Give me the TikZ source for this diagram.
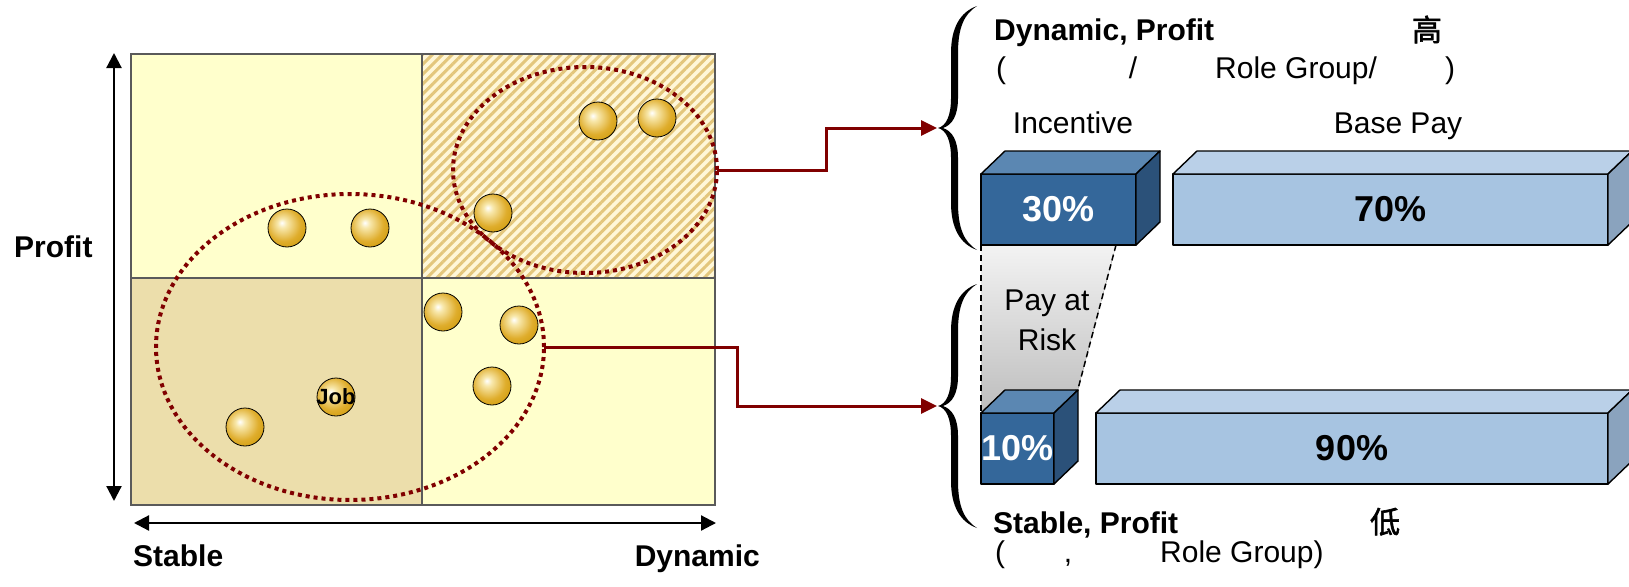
\documentclass[tikz,border=0pt]{standalone}
\usepackage{fontspec}
\setmainfont{Liberation Sans}
\newfontfamily\cjk{Noto Sans CJK SC}[FakeBold=2]
\usetikzlibrary{arrows.meta,shapes.geometric,patterns.meta}

% palette
\definecolor{paleyellow}{HTML}{FFFFCC}
\definecolor{tanfill}{HTML}{ECDEAB}
\definecolor{hatchbase}{HTML}{FFF7D8}
\definecolor{hatchline}{HTML}{E3C67C}
\definecolor{gridgray}{HTML}{5A5A5A}
\definecolor{linkred}{HTML}{800000}
\definecolor{gold1}{HTML}{F8E8AC}
\definecolor{gold2}{HTML}{DFAD2C}
\definecolor{gold3}{HTML}{C99500}
\definecolor{gold4}{HTML}{9A7200}
\definecolor{frontd}{HTML}{34679A}
\definecolor{topd}{HTML}{5B87B2}
\definecolor{sided}{HTML}{2B5179}
\definecolor{frontl}{HTML}{A7C4E1}
\definecolor{topl}{HTML}{BAD0E8}
\definecolor{sidel}{HTML}{8AA3BE}
\definecolor{riskhi}{HTML}{F3F3F3}
\definecolor{risklo}{HTML}{BDBDBD}

\pgfdeclareradialshading{goldball}{\pgfpoint{-7bp}{7bp}}{%
  color(0bp)=(white); color(6bp)=(gold1); color(22bp)=(gold2);
  color(38bp)=(gold3); color(60bp)=(gold4)}

\tikzset{
  lab/.style={font=\fontsize{30}{36}\selectfont, inner sep=0, anchor=base west},
  labb/.style={lab, font=\bfseries\fontsize{30}{36}\selectfont},
  cjklab/.style={font=\cjk\fontsize{30}{36}\selectfont, inner sep=0, anchor=base},
  grid/.style={draw=gridgray, line width=1.5pt},
  axis/.style={line width=2.2pt, {Triangle[length=15pt,width=15pt]}-{Triangle[length=15pt,width=15pt]}},
  grp/.style={ellipse, draw=linkred, line width=4pt, dash pattern=on 4pt off 4pt,
              inner sep=0, outer sep=0},
  gball/.style={circle, draw=black, line width=0.8pt, shade, shading=goldball,
                minimum size=38pt, inner sep=0},
  link/.style={draw=linkred, line width=3pt, -{Triangle[length=16pt,width=15pt]}},
  edge/.style={draw=black, line width=1.4pt, line join=round},
  barfront/.style={edge, rectangle, inner sep=0, outer sep=0, minimum height=71pt,
                   font=\bfseries\fontsize{36}{40}\selectfont},
  riskdash/.style={line width=1.5pt, dash pattern=on 6pt off 4pt},
  bracefill/.style={fill=black},
}

\begin{document}
\begin{tikzpicture}[x=1pt, y=-1pt]
\useasboundingbox (0,0) rectangle (1629,586);
\clip (0,0) rectangle (1629,586);

% ---- quadrant chart ----
\fill[paleyellow] (131,54) rectangle (422,278);
\fill[hatchbase] (422,54) rectangle (715,278);
\fill[pattern={Lines[angle=45,distance=7pt,line width=3pt]}, pattern color=hatchline]
  (422,54) rectangle (715,278);
\fill[tanfill] (131,278) rectangle (422,505);
\fill[paleyellow] (422,278) rectangle (715,505);
\draw[grid] (131,54) rectangle (715,505);
\draw[grid] (422,54) -- (422,505);
\draw[grid] (131,278) -- (715,278);

% axes
\draw[axis] (114,53) -- (114,501);
\draw[axis] (134,523) -- (716,523);
\node[labb] (yl) at (14,257) {Profit};
\node[labb] (xl1) at (133,566) {Stable};
\node[labb, anchor=base east] (xl2) at (760,566) {Dynamic};

% groups
\node[grp, minimum width=264pt, minimum height=206pt] (g1) at (585,170) {};
\node[grp, minimum width=388pt, minimum height=306pt] (g2) at (350,347) {};

% jobs
\node[gball] (b1) at (598,121) {};
\node[gball] (b2) at (657,118) {};
\node[gball] (b3) at (493,213) {};
\node[gball] (b4) at (287,228) {};
\node[gball] (b5) at (370,228) {};
\node[gball] (b6) at (443,312) {};
\node[gball] (b7) at (519,325) {};
\node[gball] (b8) at (492,386) {};
\node[gball] (b9) at (245,427) {};
\node[gball] (b10) at (336,397) {};
\node[font=\bfseries\fontsize{22}{24}\selectfont, inner sep=0] (jobtxt) at (b10) {Job};

% ---- braces ----
\foreach \ty in {128,406}{
  \fill[bracefill, shift={(938,\ty)}]
    (39,-122) .. controls (22,-116) and (13,-100) .. (13,-75) -- (13,-30)
    .. controls (13,-12) and (8,-2) .. (0,0)
    .. controls (8,2) and (13,12) .. (13,30) -- (13,75)
    .. controls (13,100) and (22,116) .. (39,122)
    .. controls (26,114) and (20,100) .. (20,75) -- (20,30)
    .. controls (20,12) and (14,3) .. (5,0)
    .. controls (14,-3) and (20,-12) .. (20,-30) -- (20,-75)
    .. controls (20,-100) and (26,-114) .. (39,-122) -- cycle;
}
\coordinate (t1) at (937,128);
\coordinate (t2) at (937,406);

% connectors
\coordinate (j1) at (826,0);
\coordinate (j2) at (737,0);
\draw[link] (g1.east) -- (g1.east -| j1) |- (t1);
\draw[link] (g2.east) -- (g2.east -| j2) |- (t2);

% ---- right side texts ----
\node[labb] (h1) at (994,41) {Dynamic, Profit};
\node[cjklab] (h1c) at (1427,41) {高};
\node[lab] (h1a) at (996,78) {(};
\node[lab, anchor=base] (h1b) at (1133,78) {/};
\node[lab] (h1d) at (1215,78) {Role Group/};
\node[lab, anchor=base] (h1e) at (1450,78) {)};
\node[lab, anchor=base] (inc) at (1073,133) {Incentive};
\node[lab, anchor=base] (base) at (1398,133) {Base Pay};

\node[labb] (h2) at (993,533) {Stable, Profit};
\node[cjklab] (h2c) at (1385,533) {低};
\node[lab] (h2a) at (995,562) {(};
\node[lab, anchor=base] (h2b) at (1068,562) {,};
\node[lab] (h2d) at (1160,562) {Role Group)};

% ---- pay at risk band ----
\coordinate (rk1) at (1116,245);
\coordinate (rk2) at (1078,389);
\fill[top color=riskhi, bottom color=risklo] (981,245) -- (rk1) -- (rk2) -- (981,413) -- cycle;
\draw[riskdash] (981,245) -- (981,413);
\draw[riskdash] (rk1) -- (rk2);
\node[lab, anchor=base] (pr1) at (1047,310) {Pay at};
\node[lab, anchor=base] (pr2) at (1047,350) {Risk};

% ---- bars ----
\node[barfront, fill=frontd, text=white, minimum width=155pt] (p30) at (1058.5,209.5) {30\%};
\draw[edge, fill=topd] (p30.north west) -- ++(24,-23) -- ++(155,0) -- (p30.north east) -- cycle;
\draw[edge, fill=sided] (p30.north east) -- ++(24,-23) -- ++(0,71) -- (p30.south east) -- cycle;

\node[barfront, fill=frontl, minimum width=435pt] (p70) at (1390.5,209.5) {70\%};
\draw[edge, fill=topl] (p70.north west) -- ++(24,-23) -- ++(435,0) -- (p70.north east) -- cycle;
\draw[edge, fill=sidel] (p70.north east) -- ++(24,-23) -- ++(0,71) -- (p70.south east) -- cycle;

\node[barfront, fill=frontd, text=white, minimum width=73pt] (p10) at (1017.5,448.5) {10\%};
\draw[edge, fill=topd] (p10.north west) -- ++(24,-23) -- ++(73,0) -- (p10.north east) -- cycle;
\draw[edge, fill=sided] (p10.north east) -- ++(24,-23) -- ++(0,71) -- (p10.south east) -- cycle;

\node[barfront, fill=frontl, minimum width=512pt] (p90) at (1352,448.5) {90\%};
\draw[edge, fill=topl] (p90.north west) -- ++(24,-23) -- ++(512,0) -- (p90.north east) -- cycle;
\draw[edge, fill=sidel] (p90.north east) -- ++(24,-23) -- ++(0,71) -- (p90.south east) -- cycle;
\end{tikzpicture}
\end{document}
